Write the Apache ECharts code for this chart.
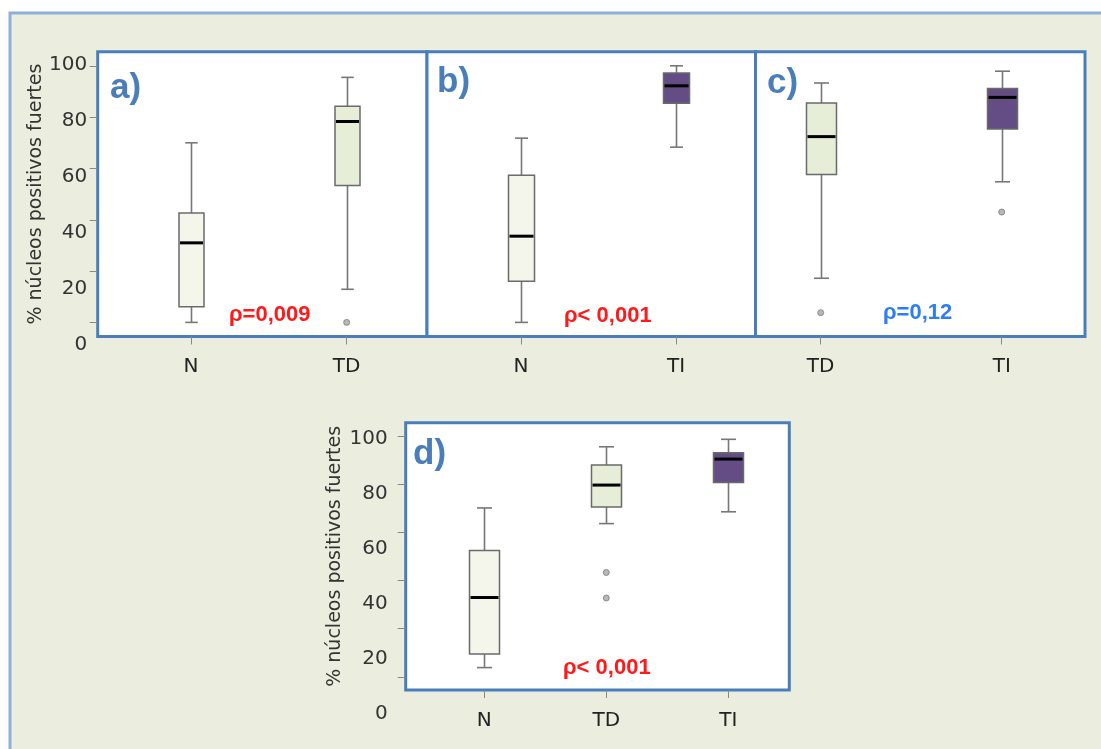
<!DOCTYPE html>
<html><head><meta charset="utf-8">
<style>html,body{margin:0;padding:0;background:#fff;}#chart{width:1101px;height:749px;}</style>
<script src="https://cdn.jsdelivr.net/npm/echarts@6.0.0/dist/echarts.min.js"></script>
</head><body><div id="chart"></div>
<script>
// ---------------- data ----------------
const yTickValues = [0, 20, 40, 60, 80, 100];
const yTickLabels = ['0', '20', '40', '60', '80', '100'];
const yTitle = '% núcleos positivos fuertes';

// box = [min, Q1, median, Q3, max]
const catsA = ['N', 'TD'];
const boxesA = [[0, 6.1, 31.0, 42.6, 70.0], [12.9, 53.4, 78.3, 84.2, 95.5]];
const outliersA = [[1, 0]];
const pA = 'ρ=0,009';

const catsB = ['N', 'TI'];
const boxesB = [[0, 16.0, 33.6, 57.3, 71.8], [68.3, 85.4, 92.2, 97.2, 100]];
const outliersB = [];
const pB = 'ρ< 0,001';

const catsC = ['TD', 'TI'];
const boxesC = [[17.2, 57.6, 72.4, 85.5, 93.3], [54.8, 75.4, 87.7, 91.2, 97.9]];
const outliersC = [[0, 3.8], [1, 43.0]];
const pC = 'ρ=0,12';

const catsD = ['N', 'TD', 'TI'];
const boxesD = [[3.8, 9.5, 32.9, 52.4, 70.1], [63.6, 70.5, 79.6, 87.9, 95.5], [68.5, 80.7, 90.4, 93.0, 98.6]];
const outliersD = [[1, 43.3], [1, 32.7]];
const pD = 'ρ< 0,001';

const panelLetters = ['a)', 'b)', 'c)', 'd)'];

// ---------------- styles ----------------
const fillFor = { N: '#F4F6EC', TD: '#E6EED8', TI: '#644C85' };
const frameBlue = '#4A7EBB';
const fontAxis = 'DejaVu Sans';

function boxRenderer(cats, boxW) {
  return function (params, api) {
    const i = api.value(0);
    const lo = api.coord([i, api.value(1)]);
    const q1 = api.coord([i, api.value(2)]);
    const md = api.coord([i, api.value(3)]);
    const q3 = api.coord([i, api.value(4)]);
    const hi = api.coord([i, api.value(5)]);
    const x = Math.round(lo[0]) + 0.5;
    const hw = boxW / 2, cw = boxW / 4;
    const ws = { stroke: '#777', lineWidth: 1.6 };
    return {
      type: 'group',
      children: [
        { type: 'line', shape: { x1: x, y1: hi[1], x2: x, y2: q3[1] }, style: ws },
        { type: 'line', shape: { x1: x, y1: q1[1], x2: x, y2: lo[1] }, style: ws },
        { type: 'line', shape: { x1: x - cw, y1: hi[1], x2: x + cw, y2: hi[1] }, style: ws },
        { type: 'line', shape: { x1: x - cw, y1: lo[1], x2: x + cw, y2: lo[1] }, style: ws },
        { type: 'rect', shape: { x: x - hw, y: q3[1], width: boxW, height: q1[1] - q3[1] },
          style: { fill: fillFor[cats[i]], stroke: '#6a6a6a', lineWidth: 1.5 } },
        { type: 'line', shape: { x1: x - hw + 1, y1: md[1], x2: x + hw - 1, y2: md[1] },
          style: { stroke: '#000', lineWidth: 3 } }
      ]
    };
  };
}

// panel layout (frame rectangles) and x ranges
const panels = [
  { cats: catsA, boxes: boxesA, out: outliersA, rect: [97.7, 51.7, 329.3, 284.8], xr: [-0.599, 1.516], boxW: 25, yaxis: true, labMargin: 20, nameGap: 52 },
  { cats: catsB, boxes: boxesB, out: outliersB, rect: [427, 51.7, 328.5, 284.8], xr: [-0.606, 1.513], boxW: 26, yaxis: false, labMargin: 20 },
  { cats: catsC, boxes: boxesC, out: outliersC, rect: [755.5, 51.7, 329.5, 284.8], xr: [-0.36, 1.46], boxW: 30, yaxis: false, labMargin: 20 },
  { cats: catsD, boxes: boxesD, out: outliersD, rect: [405.7, 422.7, 383.6, 267.3], xr: [-0.644, 2.5], boxW: 30, yaxis: true, labMargin: 21, nameGap: 61 }
];

const grid = [], xAxis = [], yAxis = [], series = [];
panels.forEach(function (p, k) {
  grid.push({ left: p.rect[0], top: p.rect[1], width: p.rect[2], height: p.rect[3],
    show: true, backgroundColor: '#fff', borderColor: frameBlue, borderWidth: 3, containLabel: false });
  xAxis.push({
    gridIndex: k, type: 'value', min: p.xr[0], max: p.xr[1],
    axisLine: { show: false, onZero: false }, splitLine: { show: false },
    axisTick: { show: true, customValues: p.cats.map(function (c, i) { return i; }), length: 8, lineStyle: { color: '#888' } },
    axisLabel: { customValues: p.cats.map(function (c, i) { return i; }), formatter: function (v) { return p.cats[Math.round(v)]; },
      margin: p.labMargin, fontSize: 20, color: '#222', fontFamily: fontAxis }
  });
  yAxis.push({
    gridIndex: k, type: 'value', min: -5.5, max: 105.5,
    axisLine: { show: false, onZero: false }, splitLine: { show: false },
    axisTick: { show: p.yaxis, customValues: yTickValues, length: 8, lineStyle: { color: '#888' } },
    axisLabel: { show: false },
    name: p.yaxis ? yTitle : '', nameLocation: 'middle', nameGap: p.nameGap || 52,
    nameTextStyle: { fontSize: 19, color: '#333', fontFamily: fontAxis }
  });
  series.push({
    type: 'custom', xAxisIndex: k, yAxisIndex: k,
    renderItem: boxRenderer(p.cats, p.boxW),
    encode: { x: 0, y: [1, 2, 3, 4, 5] },
    data: p.boxes.map(function (b, i) { return [i].concat(b); }),
    z: 3
  });
  series.push({
    type: 'scatter', xAxisIndex: k, yAxisIndex: k, data: p.out, symbolSize: 6,
    itemStyle: { color: '#a6a6a6', borderColor: '#7a7a7a', borderWidth: 1 }, z: 4
  });
});

// label-only axes (tick labels as printed in the figure)
const labelGrids = [
  { left: 97.7, top: 65, height: 280, margin: 10.5 },
  { left: 405.7, top: 438.3, height: 275, margin: 18 }
];
labelGrids.forEach(function (g) {
  const gi = grid.length;
  grid.push({ left: g.left, top: g.top, width: 10, height: g.height, show: false });
  xAxis.push({ gridIndex: gi, type: 'value', show: false, min: 0, max: 1 });
  yAxis.push({
    gridIndex: gi, type: 'value', min: 0, max: 100, interval: 20,
    axisLine: { show: false, onZero: false }, axisTick: { show: false }, splitLine: { show: false },
    axisLabel: { margin: g.margin, fontSize: 20, color: '#333', fontFamily: fontAxis,
      formatter: function (v) { return yTickLabels[yTickValues.indexOf(v)]; } }
  });
});

const pFont = 'bold 22px "Liberation Sans"';
const letterFont = 'bold 35px "Liberation Sans"';
const graphic = [
  { type: 'rect', z: -100, silent: true, shape: { x: 10, y: 13, width: 1200, height: 800 },
    style: { fill: '#EBEEDF', stroke: '#8EAFD8', lineWidth: 3 } },
  { type: 'text', z: 100, x: 229, y: 315, style: { text: pA, fill: '#FF1A1A', font: pFont, verticalAlign: 'middle' } },
  { type: 'text', z: 100, x: 564, y: 316, style: { text: pB, fill: '#FF1A1A', font: pFont, verticalAlign: 'middle' } },
  { type: 'text', z: 100, x: 883, y: 313, style: { text: pC, fill: '#2E7DF7', font: pFont, verticalAlign: 'middle' } },
  { type: 'text', z: 100, x: 563, y: 668, style: { text: pD, fill: '#FF1A1A', font: pFont, verticalAlign: 'middle' } },
  { type: 'text', z: 100, x: 110, y: 88, style: { text: panelLetters[0], fill: frameBlue, font: letterFont, verticalAlign: 'middle' } },
  { type: 'text', z: 100, x: 437, y: 82, style: { text: panelLetters[1], fill: frameBlue, font: letterFont, verticalAlign: 'middle' } },
  { type: 'text', z: 100, x: 767, y: 83, style: { text: panelLetters[2], fill: frameBlue, font: letterFont, verticalAlign: 'middle' } },
  { type: 'text', z: 100, x: 413, y: 454, style: { text: panelLetters[3], fill: frameBlue, font: letterFont, verticalAlign: 'middle' } }
];

const chart = echarts.init(document.getElementById('chart'), null, { renderer: 'canvas' });
chart.setOption({
  backgroundColor: '#fff',
  animation: false,
  grid: grid, xAxis: xAxis, yAxis: yAxis, series: series, graphic: graphic
});
</script></body></html>
